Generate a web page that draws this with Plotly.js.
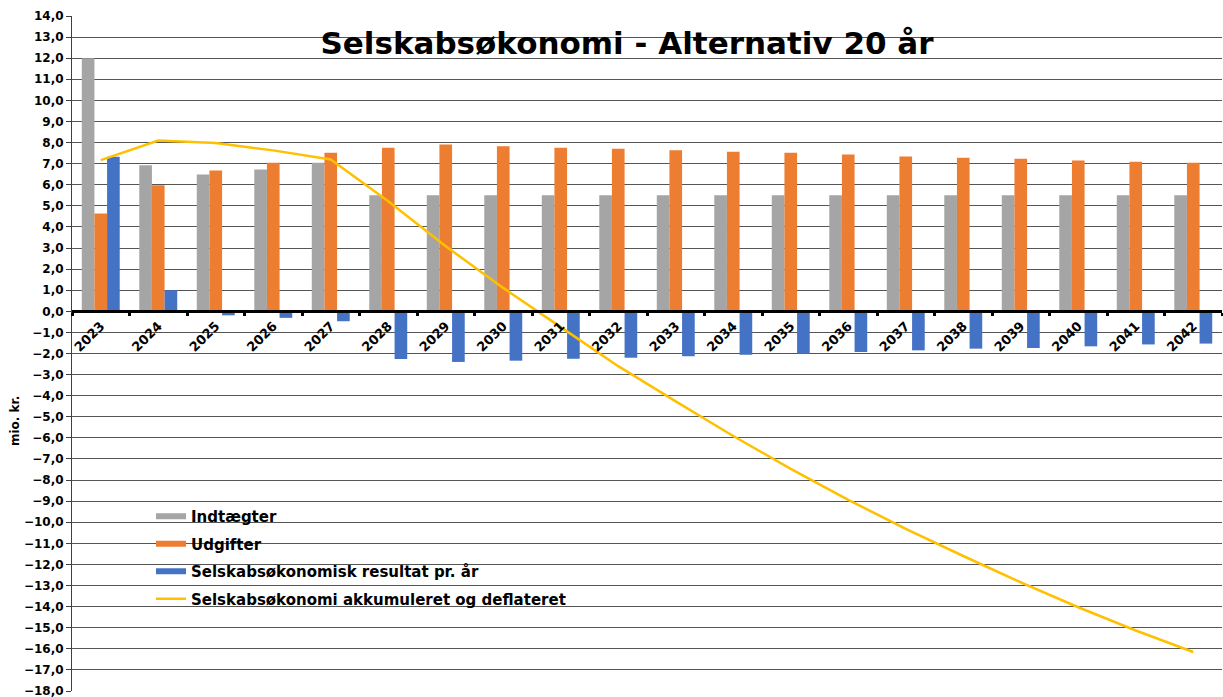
<!DOCTYPE html>
<html>
<head>
<meta charset="utf-8">
<script src="https://cdn.plot.ly/plotly-3.0.1.min.js"></script>
<style>
  html, body { margin: 0; padding: 0; background: #ffffff; }
  #chart { width: 1223px; height: 697px; }
</style>
</head>
<body>
<div id="chart"></div>
<script>
// ---- Data (mio. kr.) ----
const years = ["2023","2024","2025","2026","2027","2028","2029","2030","2031","2032",
               "2033","2034","2035","2036","2037","2038","2039","2040","2041","2042"];
const indtaegter = [12.0, 6.93, 6.49, 6.72, 7.04, 5.5, 5.5, 5.5, 5.5, 5.5,
                    5.5, 5.5, 5.5, 5.5, 5.5, 5.5, 5.5, 5.5, 5.5, 5.5];
const udgifter = [4.64, 5.98, 6.68, 7.04, 7.52, 7.75, 7.91, 7.83, 7.75, 7.71,
                  7.63, 7.56, 7.52, 7.44, 7.34, 7.28, 7.23, 7.15, 7.09, 7.04];
const resultat = [7.33, 1.0, -0.19, -0.31, -0.47, -2.26, -2.40, -2.34, -2.25, -2.20,
                  -2.13, -2.06, -2.01, -1.93, -1.85, -1.77, -1.74, -1.66, -1.57, -1.53];
const akkumuleret = [7.17, 8.10, 7.98, 7.63, 7.20, 5.22, 3.08, 1.11, -0.75, -2.60,
                     -4.27, -5.91, -7.47, -8.94, -10.31, -11.60, -12.85, -14.03, -15.13, -16.15];
const seriesNames = ["Indtægter", "Udgifter", "Selskabsøkonomisk resultat pr. år",
                     "Selskabsøkonomi akkumuleret og deflateret"];
const yTickValues = [14,13,12,11,10,9,8,7,6,5,4,3,2,1,0,-1,-2,-3,-4,-5,-6,-7,-8,-9,
                     -10,-11,-12,-13,-14,-15,-16,-17,-18];
const titleText = "Selskabsøkonomi - Alternativ 20 år";
const yTitleText = "mio. kr.";

// ---- Styling ----
const FONT = "DejaVu Sans, Verdana, sans-serif";
const colors = ["#A5A5A5", "#ED7D31", "#4472C4", "#FFC000"];

// plot area geometry (pixels)
const W = 1223, H = 697;
const L = 72, R = 1, T = 16, B = 6;
const pw = W - L - R, ph = H - T - B;
const yMin = -18, yMax = 14;
const px2x = p => (p - L) / pw;
const px2y = p => (H - B - p) / ph;

const traces = [
  {type: "bar", x: years, y: indtaegter, name: seriesNames[0], legendgroup: "g0",
   showlegend: false, marker: {color: colors[0]}},
  {type: "bar", x: years, y: udgifter, name: seriesNames[1], legendgroup: "g1",
   showlegend: false, marker: {color: colors[1]}},
  {type: "bar", x: years, y: resultat, name: seriesNames[2], legendgroup: "g2",
   showlegend: false, marker: {color: colors[2]}},
  {type: "scatter", mode: "lines", x: years, y: akkumuleret, name: seriesNames[3],
   legendgroup: "g3", showlegend: false, line: {color: colors[3], width: 2.5}},
  // legend entries (wide flat symbols like the original legend)
  {type: "scatter", mode: "lines", x: [null], y: [null], name: seriesNames[0],
   legendgroup: "g0", line: {color: colors[0], width: 6}, hoverinfo: "skip"},
  {type: "scatter", mode: "lines", x: [null], y: [null], name: seriesNames[1],
   legendgroup: "g1", line: {color: colors[1], width: 6}, hoverinfo: "skip"},
  {type: "scatter", mode: "lines", x: [null], y: [null], name: seriesNames[2],
   legendgroup: "g2", line: {color: colors[2], width: 6}, hoverinfo: "skip"},
  {type: "scatter", mode: "lines", x: [null], y: [null], name: seriesNames[3],
   legendgroup: "g3", line: {color: colors[3], width: 2.5}, hoverinfo: "skip"}
];

const layout = {
  width: W, height: H,
  margin: {l: L, r: R, t: T, b: B, pad: 0},
  paper_bgcolor: "#ffffff", plot_bgcolor: "#ffffff",
  separators: ", ",
  font: {family: FONT, size: 12, color: "#000000", weight: "bold"},
  barmode: "group", bargap: 0.34, bargroupgap: 0,
  showlegend: true,
  title: {
    text: titleText,
    font: {family: FONT, size: 31, color: "#000000", weight: "bold"},
    xref: "container", yref: "container",
    x: 627 / W, y: 1 - 43 / H, xanchor: "center", yanchor: "middle"
  },
  xaxis: {
    type: "category",
    anchor: "free",
    position: (0 - yMin) / (yMax - yMin),
    showline: true, linecolor: "#000000", linewidth: 3,
    showgrid: false, zeroline: false,
    ticks: "outside", tickson: "boundaries", ticklen: 3, tickwidth: 3, tickcolor: "#000000",
    tickangle: -45,
    tickfont: {family: FONT, size: 13, color: "#000000", weight: "bold"},
    fixedrange: true
  },
  yaxis: {
    range: [yMin, yMax],
    tickvals: yTickValues,
    tickformat: ".1f",
    ticklabeloverflow: "allow",
    showgrid: true, gridcolor: "#555555", gridwidth: 1,
    zeroline: false,
    showline: true, linecolor: "#404040", linewidth: 1,
    ticks: "outside", ticklen: 5, tickcolor: "#404040",
    tickfont: {family: FONT, size: 12, color: "#000000", weight: "bold"},
    fixedrange: true
  },
  legend: {
    x: px2x(151), y: px2y(500), xanchor: "left", yanchor: "top",
    bgcolor: "rgba(0,0,0,0)", borderwidth: 0,
    font: {family: FONT, size: 15, color: "#000000", weight: "bold"},
    traceorder: "grouped", tracegroupgap: 5
  },
  shapes: [{
    type: "rect", xref: "paper", yref: "paper", layer: "between",
    x0: px2x(116), x1: px2x(616), y0: px2y(622), y1: px2y(503),
    fillcolor: "#ffffff", line: {width: 0}
  }],
  annotations: [{
    text: yTitleText, xref: "paper", yref: "paper",
    x: px2x(15), y: px2y(421), xanchor: "center", yanchor: "middle",
    textangle: -90, showarrow: false,
    font: {family: FONT, size: 12, color: "#000000", weight: "bold"}
  }]
};

Plotly.newPlot("chart", traces, layout, {displayModeBar: false, staticPlot: true});
</script>
</body>
</html>
